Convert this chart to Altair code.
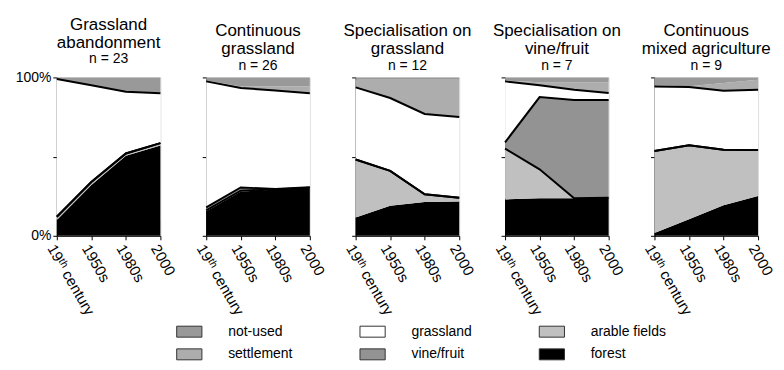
import altair as alt
import pandas as pd

# ---------------- data ----------------
periods = ["19ᵗʰ century", "1950s", "1980s", "2000"]
stack_layers = ["forest", "arable fields", "vine/fruit", "grassland", "settlement", "not-used"]

panel_titles = [
    ["Grassland", "abandonment"],
    ["Continuous", "grassland"],
    ["Specialisation on", "grassland"],
    ["Specialisation on", "vine/fruit"],
    ["Continuous", "mixed agriculture"],
]
panel_n = ["n = 23", "n = 26", "n = 12", "n = 7", "n = 9"]

# shares (%) per panel, per period
forest = [
    [10, 32, 50.5, 57],
    [15.5, 28, 29, 30],
    [11.5, 19, 21.4, 21.6],
    [23, 23.7, 23.7, 24.1],
    [1.7, 10.5, 19.3, 25.2],
]
arable = [
    [2, 2, 1.5, 1.5],
    [0.5, 0.5, 0.3, 0.3],
    [36.7, 22, 4.8, 2.5],
    [32, 18.3, 0, 0],
    [51.8, 46.7, 35, 28.9],
]
vine = [
    [0, 0, 0, 0],
    [2, 2, 0.3, 0.3],
    [0, 0, 0, 0],
    [4, 45.6, 62, 61.6],
    [0, 0, 0, 0],
]
grassland = [
    [87, 61, 39, 31.5],
    [79.5, 62.8, 62.2, 59.4],
    [45.5, 46, 50.7, 50.9],
    [38.5, 7.4, 6.5, 4.4],
    [40.8, 36.7, 37.3, 38.1],
]
settlement = [
    [0, 0, 0, 0.5],
    [0.5, 1, 2.5, 4.2],
    [4.8, 11.5, 21.6, 23.5],
    [0.5, 2, 4.8, 6.9],
    [0.8, 0.5, 4.9, 6.3],
]
not_used = [
    [1, 5, 9, 9.5],
    [2, 5.7, 5.7, 5.8],
    [1.5, 1.5, 1.5, 1.5],
    [2, 3, 3, 3],
    [4.9, 5.6, 3.5, 1.5],
]

legend_order = ["not-used", "settlement", "grassland", "vine/fruit", "arable fields", "forest"]
legend_colors = ["#999999", "#adadad", "#ffffff", "#939393", "#c0c0c0", "#000000"]

# ---------------- table ----------------
series = {
    "forest": forest,
    "arable fields": arable,
    "vine/fruit": vine,
    "grassland": grassland,
    "settlement": settlement,
    "not-used": not_used,
}
rows = []
for p in range(len(panel_titles)):
    for j, per in enumerate(periods):
        lo = 0.0
        for k, lay in enumerate(stack_layers):
            v = series[lay][p][j]
            rows.append({"panel": p, "period": per, "layer": lay, "order": k,
                         "lo": lo, "hi": lo + v})
            lo += v
df = pd.DataFrame(rows)

outlined = ["arable fields", "vine/fruit", "grassland"]

color = alt.Color(
    "layer:N",
    scale=alt.Scale(domain=legend_order, range=legend_colors),
    legend=alt.Legend(
        title=None, orient="none", legendX=126, legendY=248, columns=3,
        columnPadding=65, rowPadding=7, labelFontSize=14, labelColor="black",
        labelOffset=32, symbolSize=121, symbolType="M-2.3,-1H2.3V1H-2.3Z",
        symbolStrokeColor="#333333", symbolStrokeWidth=1, symbolOpacity=1,
        labelFont="Liberation Sans",
    ),
)


def make_panel(i):
    d = df[df.panel == i]
    x = alt.X(
        "period:O", sort=periods,
        scale=alt.Scale(type="point", padding=0),
        axis=alt.Axis(title=None, labelAngle=60, labelAlign="left", labelBaseline="top",
                      labelFontSize=15, labelPadding=2, tickSize=4, labelColor="black",
                      domainColor="black", tickColor="black", labelOverlap=False),
    )
    y_axis = alt.Axis(
        title=None, values=[0, 25, 50, 75, 100], tickSize=4, labels=(i == 0),
        labelExpr="datum.value == 0 || datum.value == 100 ? datum.value + '%' : ''",
        labelFontSize=14, labelColor="black", domainColor="black", tickColor="black",
        labelPadding=2, grid=False,
    )
    y = alt.Y("hi:Q", scale=alt.Scale(domain=[0, 100], nice=False), axis=y_axis)
    area = alt.Chart(d).mark_area(opacity=1).encode(
        x=x, y=y, y2="lo:Q", color=color, order="order:Q"
    )
    lines = alt.Chart(d[d.layer.isin(outlined)]).mark_line(
        color="black", strokeWidth=2
    ).encode(x=x, y=alt.Y("hi:Q"), detail="layer:N")
    return alt.layer(area, lines).properties(
        width=104, height=159,
        title=alt.Title(panel_titles[i], subtitle=panel_n[i], fontSize=17,
                        fontWeight="normal", color="black", subtitleColor="black",
                        subtitleFontSize=14, lineHeight=18, subtitlePadding=1,
                        anchor="middle", offset=3, font="Liberation Sans",
                        subtitleFont="Liberation Sans"),
    )


chart = alt.HConcatChart(
    hconcat=[make_panel(i) for i in range(5)], spacing=46, bounds="flush"
).properties(
    padding={"left": 6, "top": 6, "right": 0, "bottom": 0}
).configure_view(stroke=None).configure(font="Liberation Sans")

chart.save("out.html", embed_options={"renderer": "svg", "actions": False})
